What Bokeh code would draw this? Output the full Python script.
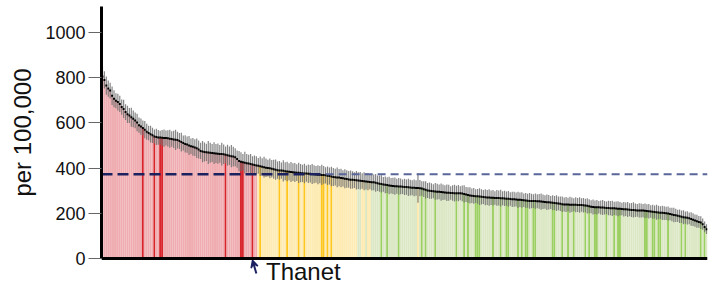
from bokeh.plotting import figure
from bokeh.models import Range1d, FixedTicker, Label, Arrow, VeeHead, ColumnDataSource, Span, Title
from bokeh.embed import file_html
from bokeh.resources import INLINE

# ---- data (rates per 100,000, sorted descending) ----
rates = [
    805, 790, 765, 752, 743, 720, 707, 698, 692, 684,
    670, 662, 648, 638, 633, 625, 618, 611, 602, 590,
    584, 578, 570, 561, 555, 550, 545, 540, 538, 536,
    535, 534, 533, 533, 532, 530, 529, 527, 525, 524,
    520, 515, 511, 507, 504, 500, 497, 494, 491, 488,
    482, 476, 473, 471, 470, 469, 468, 467, 466, 465,
    464, 463, 462, 461, 459, 457, 455, 453, 451, 448,
    440, 431, 428, 426, 424, 422, 420, 418, 416, 414,
    412, 410, 408, 406, 404, 402, 400, 399, 397, 395,
    393, 391, 390, 389, 388, 386, 385, 384, 383, 382,
    381, 380, 379, 378, 377, 376, 376, 375, 375, 374,
    373, 372, 371, 371, 370, 370, 368, 366, 365, 363,
    361, 360, 359, 358, 356, 355, 353, 352, 350, 349,
    348, 347, 346, 345, 344, 343, 342, 341, 340, 339,
    338, 337, 335, 333, 331, 330, 328, 326, 325, 323,
    322, 321, 320, 320, 319, 319, 318, 317, 316, 315,
    314, 313, 313, 312, 312, 311, 310, 307, 304, 301,
    300, 299, 298, 297, 296, 295, 294, 293, 292, 291,
    291, 290, 290, 289, 289, 289, 289, 288, 286, 283,
    281, 279, 278, 277, 276, 275, 274, 273, 272, 271,
    270, 270, 269, 269, 268, 268, 268, 267, 267, 266,
    265, 264, 263, 262, 262, 261, 260, 260, 259, 258,
    257, 256, 255, 255, 254, 254, 253, 253, 252, 251,
    250, 249, 249, 248, 247, 246, 245, 244, 242, 240,
    239, 239, 239, 238, 238, 238, 238, 237, 237, 237,
    236, 235, 233, 231, 229, 228, 227, 227, 227, 226,
    226, 225, 224, 224, 223, 222, 222, 221, 220, 220,
    219, 218, 218, 217, 216, 215, 215, 214, 213, 213,
    212, 212, 211, 210, 209, 208, 207, 206, 205, 204,
    203, 202, 201, 200, 199, 197, 195, 193, 191, 189,
    187, 185, 183, 181, 180, 178, 175, 172, 168, 165,
    162, 159, 152, 140, 130,
]

ci_half = [
    42, 38, 40, 36, 35, 41, 38, 33, 37, 36,
    34, 40, 35, 38, 33, 42, 37, 35, 39, 34,
    36, 33, 38, 35, 32, 37, 34, 31, 36, 33,
    30, 35, 38, 33, 36, 40, 34, 38, 45, 37,
    35, 41, 33, 38, 36, 42, 34, 39, 37, 43,
    40, 36, 47, 42, 38, 51, 44, 40, 48, 42,
    45, 39, 50, 43, 37, 46, 41, 49, 44, 40,
    38, 45, 42, 36, 48, 41, 39, 44, 37, 42,
    40, 35, 43, 38, 46, 41, 37, 44, 39, 42,
    45, 38, 41, 36, 47, 40, 43, 38, 44, 39,
    42, 37, 45, 40, 38, 43, 36, 41, 39, 44,
    40, 37, 42, 38, 45, 39, 36, 41, 38, 43,
    40, 37, 44, 38, 41, 36, 42, 39, 37, 40,
    38, 35, 41, 37, 39, 34, 40, 36, 38, 33,
    37, 35, 39, 34, 36, 38, 33, 37, 35, 39,
    34, 36, 38, 33, 37, 35, 32, 36, 34, 38,
    35, 33, 37, 34, 65, 36, 32, 35, 38, 33,
    36, 34, 31, 37, 35, 33, 38, 34, 32, 36,
    35, 30, 34, 37, 33, 36, 31, 35, 38, 33,
    34, 36, 32, 35, 30, 33, 37, 34, 31, 35,
    33, 36, 32, 34, 30, 35, 33, 37, 31, 34,
    32, 35, 30, 34, 33, 31, 36, 32, 34, 30,
    33, 31, 35, 32, 30, 34, 31, 33, 36, 32,
    30, 34, 32, 29, 33, 31, 35, 30, 32, 34,
    31, 33, 30, 35, 32, 29, 33, 31, 34, 30,
    32, 30, 34, 31, 29, 33, 30, 32, 28, 31,
    33, 30, 28, 32, 31, 34, 29, 31, 33, 30,
    28, 32, 30, 33, 29, 31, 34, 30, 28, 32,
    31, 29, 33, 30, 32, 28, 31, 29, 33, 30,
    28, 32, 30, 29, 31, 28, 30, 32, 29, 27,
    30, 28, 31, 27, 29, 26, 30, 28, 27, 29,
    26, 28, 25, 24, 22,
]

# comparison with England rate, as consecutive runs of sorted areas
status_runs = [("higher", 81), ("similar", 52), ("lower", 2), ("similar", 2),
               ("lower", 1), ("similar", 2), ("lower", 24), ("similar", 1),
               ("lower", 150)]

# highlighted areas (positions in the sorted order)
highlighted = [21, 27, 30, 31, 64, 72, 73, 78,
               82, 92, 96, 102, 105, 114, 115, 117, 119,
               145, 148, 154, 166, 168, 173, 184, 188, 190, 194, 195, 196,
               203, 207, 210, 211, 216, 218, 220, 221, 224, 225, 234, 235,
               239, 242, 245, 251, 253, 256, 257, 262, 266, 268, 269, 282,
               283, 286, 287, 289, 290, 294, 301, 303, 311, 313]

england_rate = 373
thanet_position = 78
thanet_name = "Thanet"
y_ticks = [0, 200, 400, 600, 800, 1000]
y_top = 1115
y_label = "per 100,000"

# ---- build ----
light = {"higher": "#efadb1", "similar": "#fdebb3", "lower": "#dce8c5"}
bright = {"higher": "#d9232b", "similar": "#ffc61e", "lower": "#9ccf62"}

status = []
for s, n in status_runs:
    status += [s] * n

n = len(rates)
idx = list(range(n))
hl = set(highlighted)
colors = [bright[status[i]] if i in hl else light[status[i]] for i in idx]
lower = [r - h for r, h in zip(rates, ci_half)]
upper = [r + h for r, h in zip(rates, ci_half)]

src = ColumnDataSource(dict(x=idx, top=rates, color=colors, lo=lower, hi=upper,
                            x0=[i - 0.5 for i in idx], x1=[i + 0.5 for i in idx]))

p = figure(width=715, height=289, output_backend="svg", toolbar_location=None,
           x_range=Range1d(-0.5, n - 0.5), y_range=Range1d(-137, y_top),
           min_border_left=101, min_border_right=8, min_border_top=6,
           min_border_bottom=0)
p.outline_line_color = None
p.xgrid.visible = False
p.ygrid.visible = False
p.xaxis.visible = False
p.background_fill_color = "white"

p.vbar(x="x", top="top", bottom=0, width=1.0, color="color", source=src, line_color=None)
p.segment(x0="x", x1="x", y0="lo", y1="hi", source=src, line_color="#707070",
          line_width=1.2, line_alpha=0.85)
p.segment(x0="x0", x1="x1", y0="top", y1="top", source=src, line_color="black",
          line_width=2)

# England reference line
dark_end = 116
p.line(x=[dark_end, n - 0.5], y=[england_rate, england_rate], line_color="#5a6699",
       line_width=2, line_dash="8 5")
p.line(x=[-0.5, dark_end], y=[england_rate, england_rate], line_color="#1c2260",
       line_width=2.5, line_dash="11 5")

# baseline
p.add_layout(Span(location=0, dimension="width", line_color="black", line_width=3))

# axes
ya = p.yaxis[0]
ya.ticker = FixedTicker(ticks=y_ticks)
ya.bounds = (0, y_top)
ya.axis_line_width = 3
ya.axis_line_color = "black"
ya.major_tick_out = 13
ya.major_tick_in = 0
ya.major_tick_line_color = "#666666"
ya.minor_tick_line_color = None
ya.major_label_text_font = "Liberation Sans"
ya.major_label_text_font_size = "18px"
ya.major_label_text_color = "#111111"
ya.major_label_standoff = 3

# axis title, placed along the visible axis
p.add_layout(Title(text=y_label, align="right", offset=62, standoff=13,
                   text_font="Liberation Sans", text_font_size="24px",
                   text_font_style="normal", text_color="#111111"), "left")

# Thanet annotation
p.add_layout(Arrow(end=VeeHead(size=7, line_color="#1c2260", fill_color="#1c2260", line_width=1.5),
                   x_start=thanet_position + 2, y_start=-66,
                   x_end=thanet_position, y_end=-8,
                   line_color="#1c2260", line_width=2))
p.add_layout(Label(x=thanet_position + 7, y=-119, text=thanet_name,
                   text_font="Liberation Sans", text_font_size="24px",
                   text_color="#111111"))

open("out.html", "w").write(file_html(p, INLINE))
